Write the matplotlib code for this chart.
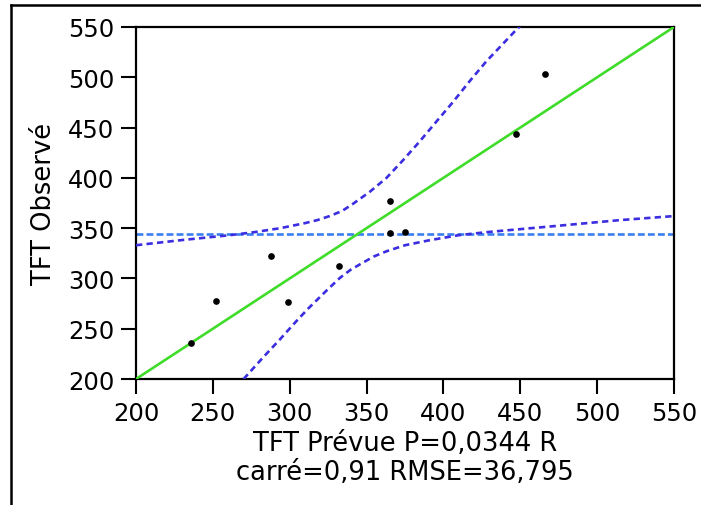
import numpy as np
import matplotlib
matplotlib.use('Agg')
import matplotlib.pyplot as plt
from matplotlib.lines import Line2D

plt.rcParams['font.family'] = ['DejaVu Sans']

# points: predicted vs observed
x_pred = [236, 252, 288, 299, 332, 365, 365, 375, 447, 466]
y_obs = [236, 278, 322, 277, 312, 377, 345, 346, 444, 503]

y_mean = 344

# confidence curves
upper_x = [200, 229, 261, 277, 294, 310, 318, 326, 334, 341, 352, 363, 374, 385, 396, 406, 417, 428, 446, 450]
upper_y = [333, 338, 343, 346, 350, 355, 358, 362, 367, 374, 386, 400, 418, 437, 457, 475, 496, 516, 545, 551]
lower_x = [270, 283, 294, 304, 312, 320, 326, 333, 340, 348, 355, 363, 375, 391, 410, 428, 450, 472, 515, 550]
lower_y = [200, 222, 240, 257, 270, 282, 291, 301, 309, 316, 322, 327, 333, 338, 343, 346, 349, 352, 358, 362]

ticks = [200, 250, 300, 350, 400, 450, 500, 550]

fig = plt.figure(figsize=(7.01, 5.06), dpi=100)
ax = fig.add_axes([0.194, 0.249, 0.7675, 0.6957])

ax.axhline(y_mean, color='#3a7ff0', lw=1.9, dashes=(2.6, 1.2), zorder=2)
ax.plot(upper_x, upper_y, color='#3b2ee0', lw=1.9, dashes=(2.4, 1.6), zorder=3)
ax.plot(lower_x, lower_y, color='#3b2ee0', lw=1.9, dashes=(2.4, 1.6), zorder=3)
ax.plot([200, 550], [200, 550], color='#3fdc2a', lw=1.9, zorder=4)
ax.plot(x_pred, y_obs, 'o', color='black', ms=3.8, zorder=5)

ax.set_xlim(200, 550)
ax.set_ylim(200, 550)
ax.set_xticks(ticks)
ax.set_yticks(ticks)
ax.tick_params(direction='out', length=11, width=1.5, pad=4.5, labelsize=17.5)
for s in ax.spines.values():
    s.set_linewidth(1.6)

ax.set_xlabel('TFT Prévue P=0,0344 R\ncarré=0,91 RMSE=36,795', fontsize=18.5,
              linespacing=1.15, labelpad=4)
ax.set_ylabel('TFT Observé', fontsize=18.5, labelpad=8)

# outer frame (top and left)
fig.add_artist(Line2D([11/701, 1], [1-6/506, 1-6/506], color='black', lw=1.8,
                      transform=fig.transFigure))
fig.add_artist(Line2D([11/701, 11/701], [0, 1-6/506], color='black', lw=1.8,
                      transform=fig.transFigure))

fig.savefig('out.png', dpi=100)
